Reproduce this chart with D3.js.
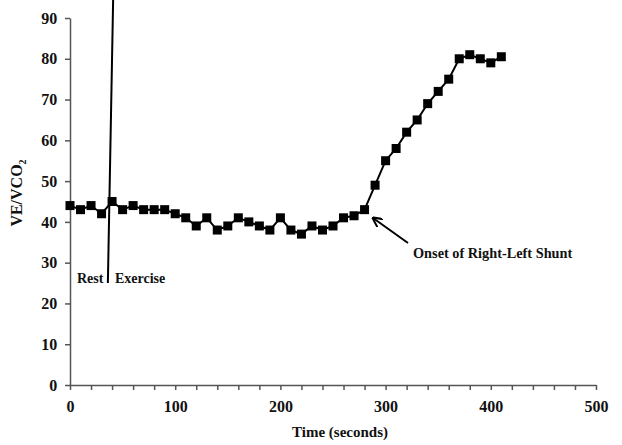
<!DOCTYPE html>
<html>
  <head>
    <meta charset="UTF-8">
    <script src="https://cdnjs.cloudflare.com/ajax/libs/d3/7.8.5/d3.min.js"></script>
    <style>
      body { margin: 0; background: #fff; }
      text { font-family: "Liberation Serif", "Times New Roman", serif; font-weight: bold; fill: #111; }
      .tick text { font-size: 16px; }
      .domain, .tick line { stroke: #555; stroke-width: 1.5px; }
    </style>
  </head>
  <body>
    <div id="chart"></div>
    <script>
      // time in seconds and VE/VCO2 readings
      var times = [0, 10, 20, 30, 40, 50, 60, 70, 80, 90, 100, 110, 120, 130, 140, 150, 160, 170, 180, 190,
                   200, 210, 220, 230, 240, 250, 260, 270, 280, 290, 300, 310, 320, 330, 340, 350, 360, 370,
                   380, 390, 400, 410];
      var ratios = [44, 43, 44, 42, 45, 43, 44, 43, 43, 43, 42, 41, 39, 41, 38, 39, 41, 40, 39, 38,
                    41, 38, 37, 39, 38, 39, 41, 41.5, 43, 49, 55, 58, 62, 65, 69, 72, 75, 80,
                    81, 80, 79, 80.5];
      var xTicks = [0, 100, 200, 300, 400, 500];
      var yTicks = [0, 10, 20, 30, 40, 50, 60, 70, 80, 90];
      // the rest / exercise divider line (seconds, ratio)
      var dividerT = [41, 36];
      var dividerV = [94.4, 25];

      var width = 622, height = 445;
      var margin = {top: 18, right: 26, bottom: 60, left: 70};

      var svg = d3.select("#chart").append("svg")
        .attr("width", width)
        .attr("height", height);

      var x = d3.scaleLinear().domain([0, 500]).range([margin.left, width - margin.right]);
      var y = d3.scaleLinear().domain([0, 90]).range([height - margin.bottom, margin.top]);

      // x axis: minor ticks every 20, labels every 100
      svg.append("g")
        .attr("transform", "translate(0," + y(0) + ")")
        .call(d3.axisBottom(x).tickValues(d3.range(0, 501, 20)).tickSize(5).tickSizeOuter(0)
          .tickFormat(d => xTicks.indexOf(d) >= 0 ? d : ""))
        .call(g => g.selectAll(".tick text").attr("dy", "1.2em"));

      svg.append("g")
        .attr("transform", "translate(" + x(0) + ",0)")
        .call(d3.axisLeft(y).tickValues(yTicks).tickSize(5).tickSizeOuter(0))
        .call(g => g.selectAll(".tick text").attr("dx", "-0.3em"));

      // divider line
      var divider = dividerT.map((t, i) => [x(t), y(dividerV[i])]);
      svg.append("path")
        .attr("d", d3.line()(divider))
        .attr("stroke", "#000").attr("stroke-width", 2).attr("fill", "none");

      var pts = times.map((t, i) => [x(t), y(ratios[i])]);
      svg.append("path")
        .attr("d", d3.line()(pts))
        .attr("stroke", "#000").attr("stroke-width", 2).attr("fill", "none");

      svg.selectAll("rect.pt")
        .data(pts).enter().append("rect")
        .attr("class", "pt")
        .attr("x", d => d[0] - 4.5).attr("y", d => d[1] - 4.5)
        .attr("width", 9).attr("height", 9)
        .attr("fill", "#000");

      // annotations
      svg.append("text").attr("x", 77).attr("y", 283).style("font-size", "14px").text("Rest");
      svg.append("text").attr("x", 115).attr("y", 283).style("font-size", "14px").text("Exercise");
      svg.append("text").attr("x", 413).attr("y", 258).style("font-size", "14.3px").text("Onset of Right-Left Shunt");

      svg.append("defs").append("marker")
        .attr("id", "arr").attr("viewBox", "0 0 10 10")
        .attr("refX", 9).attr("refY", 5)
        .attr("markerWidth", 5).attr("markerHeight", 5)
        .attr("orient", "auto")
        .append("path").attr("d", "M0,0 L10,5 L0,10").attr("fill", "none").attr("stroke", "#000").attr("stroke-width", 2);
      svg.append("line")
        .attr("x1", 408).attr("y1", 243).attr("x2", 373).attr("y2", 218)
        .attr("stroke", "#000").attr("stroke-width", 2)
        .attr("marker-end", "url(#arr)");

      // axis titles
      svg.append("text")
        .attr("x", 340).attr("y", 437)
        .attr("text-anchor", "middle").style("font-size", "15px")
        .text("Time (seconds)");

      var yl = svg.append("text")
        .attr("transform", "translate(22,193) rotate(-90)")
        .attr("text-anchor", "middle").style("font-size", "16px");
      yl.append("tspan").text("VE/VCO");
      yl.append("tspan").attr("dy", 4).style("font-size", "10px").text("2");
    </script>
  </body>
</html>
